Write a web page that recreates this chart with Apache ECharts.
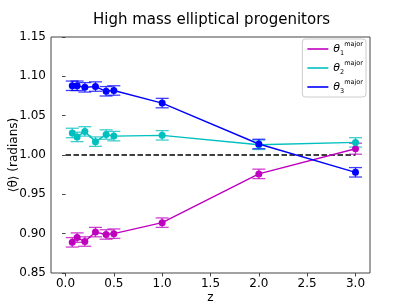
<!DOCTYPE html>
<html>
<head>
<meta charset="utf-8">
<script src="https://cdn.jsdelivr.net/npm/echarts@6/dist/echarts.min.js"></script>
<style>html,body{margin:0;padding:0;background:#fff;}#c{width:411px;height:308px;}</style>
</head>
<body>
<div id="c"></div>
<script>
const zValues = [0.07, 0.12, 0.2, 0.31, 0.42, 0.5, 1.0, 2.0, 3.0];
const theta1 = [0.889, 0.895, 0.890, 0.902, 0.899, 0.900, 0.914, 0.976, 1.008];
const theta1Err = [0.006, 0.006, 0.006, 0.006, 0.006, 0.006, 0.006, 0.006, 0.007];
const theta2 = [1.028, 1.023, 1.030, 1.017, 1.026, 1.024, 1.025, 1.013, 1.016];
const theta2Err = [0.006, 0.006, 0.006, 0.006, 0.006, 0.006, 0.006, 0.006, 0.006];
const theta3 = [1.088, 1.088, 1.086, 1.087, 1.081, 1.082, 1.066, 1.014, 0.978];
const theta3Err = [0.006, 0.006, 0.006, 0.006, 0.006, 0.006, 0.006, 0.006, 0.006];
const refLine = [[0, 1.0], [3, 1.0]];
const xTicks = [0, 0.5, 1.0, 1.5, 2.0, 2.5, 3.0];
const yTicks = [0.85, 0.90, 0.95, 1.00, 1.05, 1.10, 1.15];
const names = ['theta1', 'theta2', 'theta3'];
const colors = ['#bf00bf', '#00bfbf', '#0000ff'];

const chart = echarts.init(document.getElementById('c'), null, {renderer: 'canvas'});
const FONT = 'DejaVu Sans';

function errSeries(vals, errs, color) {
  return {
    type: 'custom',
    data: zValues.map((z, i) => [z, vals[i] - errs[i], vals[i] + errs[i]]),
    encode: {x: 0, y: [1, 2]},
    silent: true,
    z: 3,
    renderItem: function (params, api) {
      const x = api.value(0);
      const pLo = api.coord([x, api.value(1)]);
      const pHi = api.coord([x, api.value(2)]);
      const w = 6.5;
      const st = {stroke: color, lineWidth: 1.3, opacity: 0.75};
      return {type: 'group', children: [
        {type: 'line', shape: {x1: pLo[0], y1: pLo[1], x2: pHi[0], y2: pHi[1]}, style: st},
        {type: 'line', shape: {x1: pLo[0] - w, y1: pLo[1], x2: pLo[0] + w, y2: pLo[1]}, style: st},
        {type: 'line', shape: {x1: pHi[0] - w, y1: pHi[1], x2: pHi[0] + w, y2: pHi[1]}, style: st}
      ]};
    }
  };
}

function lineSeries(name, vals, color) {
  return {
    name: name,
    type: 'line',
    data: zValues.map((z, i) => [z, vals[i]]),
    symbol: 'circle',
    symbolSize: 7,
    showSymbol: true,
    itemStyle: {color: color},
    lineStyle: {color: color, width: 1.4},
    z: 4
  };
}

const series = [
  {
    type: 'line',
    data: refLine,
    symbol: 'none',
    lineStyle: {color: '#000', width: 1.6, type: [5.5, 2.5]},
    silent: true,
    z: 2
  },
  errSeries(theta1, theta1Err, colors[0]),
  lineSeries(names[0], theta1, colors[0]),
  errSeries(theta2, theta2Err, colors[1]),
  lineSeries(names[1], theta2, colors[1]),
  errSeries(theta3, theta3Err, colors[2]),
  lineSeries(names[2], theta3, colors[2])
];

chart.setOption({
  animation: false,
  backgroundColor: '#fff',
  title: {
    text: 'High mass elliptical progenitors',
    left: 88,
    top: 8,
    textStyle: {fontFamily: FONT, fontSize: 15, fontWeight: 'normal', color: '#000'}
  },
  grid: {
    left: 51, right: 41, top: 37, bottom: 35,
    containLabel: false,
    outerBoundsMode: 'none',
    show: true, borderColor: '#444', borderWidth: 1, backgroundColor: 'transparent'
  },
  legend: {
    data: names,
    orient: 'vertical',
    right: 45,
    top: 39,
    icon: 'rect',
    itemWidth: 21,
    itemHeight: 1.6,
    itemGap: 3,
    padding: [2, 3, 2, 5],
    borderColor: '#ccc',
    borderWidth: 1,
    borderRadius: 3,
    backgroundColor: 'rgba(255,255,255,0.8)',
    formatter: function (name) {
      const idx = names.indexOf(name) + 1;
      return '{t|θ}{s|' + idx + '}{p|major}';
    },
    textStyle: {
      fontFamily: FONT,
      color: '#000',
      rich: {
        t: {fontFamily: FONT, fontSize: 11, fontStyle: 'italic', lineHeight: 16, verticalAlign: 'middle'},
        s: {fontFamily: FONT, fontSize: 6.5, lineHeight: 16, verticalAlign: 'bottom'},
        p: {fontFamily: FONT, fontSize: 6.5, lineHeight: 16, verticalAlign: 'top'}
      }
    }
  },
  xAxis: {
    type: 'value',
    min: -0.15,
    max: 3.15,
    name: 'z',
    nameLocation: 'middle',
    nameGap: 19,
    nameMoveOverlap: false,
    nameTextStyle: {fontFamily: FONT, fontSize: 12, color: '#000'},
    axisLine: {show: false},
    splitLine: {show: false},
    axisTick: {show: true, inside: false, length: 3.5, lineStyle: {color: '#444'}, customValues: xTicks},
    axisLabel: {customValues: xTicks, fontFamily: FONT, fontSize: 12, color: '#000', margin: 5,
      formatter: v => v.toFixed(1)}
  },
  yAxis: {
    type: 'value',
    min: 0.85,
    max: 1.15,
    name: '⟨θ⟩ (radians)',
    nameLocation: 'middle',
    nameGap: 31,
    nameMoveOverlap: false,
    nameTextStyle: {fontFamily: FONT, fontSize: 12, color: '#000'},
    axisLine: {show: false},
    splitLine: {show: false},
    axisTick: {show: true, inside: false, length: 3.5, lineStyle: {color: '#444'}, customValues: yTicks},
    axisLabel: {customValues: yTicks, fontFamily: FONT, fontSize: 12, color: '#000', margin: 5,
      formatter: v => v.toFixed(2)}
  },
  series: series
});
</script>
</body>
</html>
